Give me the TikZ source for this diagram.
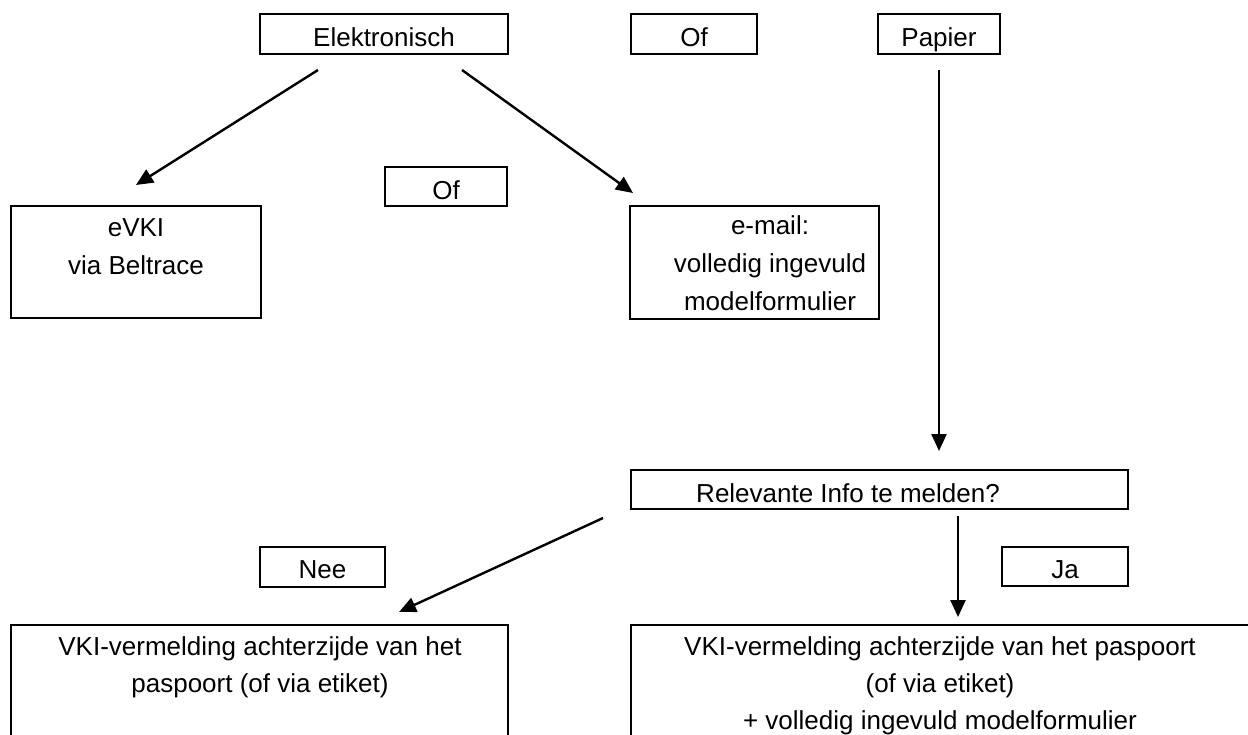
\documentclass[tikz,border=0pt]{standalone}
\usepackage{fontspec}
\setmainfont{Liberation Sans}
\usetikzlibrary{arrows.meta}
\begin{document}
\begin{tikzpicture}[x=1pt,y=-1pt,
  box/.style={draw=black, line width=2.2pt, inner sep=0pt, fill=none},
  txt/.style={anchor=base, inner sep=0pt, align=center, font=\fontsize{26}{37.5}\selectfont},
  arr/.style={line width=2.4pt, -{Triangle[length=17pt,width=15pt]}}]
\clip (0,0) rectangle (1248,734);
\fill[white] (0,0) rectangle (1248,734);
% top row
\node[box, minimum width=248, minimum height=40] (elek) at (384,34) {};
\node[txt] (elekT) at (384,46) {Elektronisch};
\node[box, minimum width=126, minimum height=40] (of1) at (694,34) {};
\node[txt] (of1T) at (694,46) {Of};
\node[box, minimum width=122, minimum height=40] (pap) at (939,34) {};
\node[txt] (papT) at (939,46) {Papier};
% middle row
\node[box, minimum width=122, minimum height=39] (of2) at (446,186.5) {};
\node[txt] (of2T) at (446,199) {Of};
\node[box, minimum width=250, minimum height=112] (evki) at (136,262) {};
\node[txt] (evkiT1) at (136,236) {eVKI};
\node[txt] (evkiT2) at (136,274) {via Beltrace};
\node[box, minimum width=249, minimum height=113] (mail) at (754.5,262.5) {};
\node[txt] (mailT1) at (770,234) {e-mail:};
\node[txt] (mailT2) at (770,272) {volledig ingevuld};
\node[txt] (mailT3) at (770,310) {modelformulier};
% decision
\node[box, minimum width=497, minimum height=39] (rel) at (879.5,489.5) {};
\node[txt] (relT) at (848,502) {Relevante Info te melden?};
\node[box, minimum width=125, minimum height=40] (nee) at (322.5,567) {};
\node[txt] (neeT) at (322.5,578) {Nee};
\node[box, minimum width=126, minimum height=39] (ja) at (1065,566.5) {};
\node[txt] (jaT) at (1065,578) {Ja};
% bottom
\node[box, minimum width=497, minimum height=140] (left) at (259.5,695) {};
\node[txt] (leftT1) at (260,655) {VKI-vermelding achterzijde van het};
\node[txt] (leftT2) at (260,692) {paspoort (of via etiket)};
\node[box, minimum width=660, minimum height=140] (right) at (961,695) {};
\node[txt] (rightT1) at (940,655) {VKI-vermelding achterzijde van het paspoort};
\node[txt] (rightT2) at (940,692) {(of via etiket)};
\node[txt] (rightT3) at (940,729) {+ volledig ingevuld modelformulier};
% connector end points
\coordinate (e1s) at (318,70);
\coordinate (e1e) at (136,185);
\coordinate (e2s) at (462,70);
\coordinate (e2e) at (633,193);
\coordinate (ps) at (939,70);
\coordinate (pe) at (939,451);
\coordinate (ns) at (603,518);
\coordinate (ne) at (399,612);
\coordinate (js) at (958,516);
\coordinate (je) at (958,617);
\draw[arr] (e1s) -- (e1e);
\draw[arr] (e2s) -- (e2e);
\draw[arr] (ps) -- (pe);
\draw[arr] (ns) -- (ne);
\draw[arr] (js) -- (je);
\end{tikzpicture}
\end{document}
